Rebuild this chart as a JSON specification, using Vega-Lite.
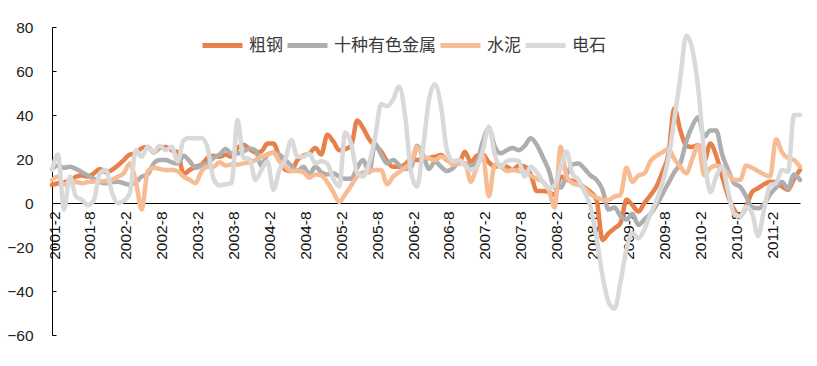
{
"$schema": "https://vega.github.io/schema/vega-lite/v6.json",
"width": 748, "height": 308,
"autosize": "none",
"padding": {"left": 52, "top": 27, "right": 17, "bottom": 31},
"background": "white",
"config": {"view": {"stroke": null}},
"data": {"values": [
{"m":"2001-2","粗钢":8.2,"十种有色金属":15.5,"水泥":10.5,"电石":15},
{"m":"2001-3","粗钢":9,"十种有色金属":17,"水泥":12,"电石":22},
{"m":"2001-4","粗钢":9.5,"十种有色金属":16,"水泥":8.3,"电石":-3},
{"m":"2001-5","粗钢":10,"十种有色金属":16.5,"水泥":9.5,"电石":12},
{"m":"2001-6","粗钢":12,"十种有色金属":15.5,"水泥":9.5,"电石":3},
{"m":"2001-7","粗钢":12.5,"十种有色金属":14,"水泥":9,"电石":1.4},
{"m":"2001-8","粗钢":12,"十种有色金属":12.5,"水泥":9.5,"电石":-1},
{"m":"2001-9","粗钢":13.5,"十种有色金属":11,"水泥":9.8,"电石":1.4},
{"m":"2001-10","粗钢":15.5,"十种有色金属":9.5,"水泥":9.8,"电石":13.5},
{"m":"2001-11","粗钢":14,"十种有色金属":9,"水泥":10,"电石":15},
{"m":"2001-12","粗钢":15,"十种有色金属":9.5,"水泥":10.5,"电石":5},
{"m":"2002-1","粗钢":17,"十种有色金属":9.7,"水泥":12,"电石":0},
{"m":"2002-2","粗钢":19.5,"十种有色金属":9,"水泥":13.5,"电石":1},
{"m":"2002-3","粗钢":22,"十种有色金属":8.3,"水泥":18,"电石":4.4},
{"m":"2002-4","粗钢":22.5,"十种有色金属":9.5,"水泥":10,"电石":24},
{"m":"2002-5","粗钢":25,"十种有色金属":12,"水泥":-3,"电石":21},
{"m":"2002-6","粗钢":25.5,"十种有色金属":13,"水泥":14.5,"电石":25.6},
{"m":"2002-7","粗钢":23,"十种有色金属":18,"水泥":16,"电石":23},
{"m":"2002-8","粗钢":25,"十种有色金属":19.5,"水泥":15.5,"电石":26},
{"m":"2002-9","粗钢":25.5,"十种有色金属":19.5,"水泥":15,"电石":24},
{"m":"2002-10","粗钢":24,"十种有色金属":18.5,"水泥":15,"电石":25.6},
{"m":"2002-11","粗钢":23,"十种有色金属":18,"水泥":14.5,"电石":19},
{"m":"2002-12","粗钢":13,"十种有色金属":21.5,"水泥":12,"电石":28.6},
{"m":"2003-1","粗钢":15,"十种有色金属":19,"水泥":10.5,"电石":29.5},
{"m":"2003-2","粗钢":16.5,"十种有色金属":16,"水泥":9,"电石":29.4},
{"m":"2003-3","粗钢":17.5,"十种有色金属":17,"水泥":14.5,"电石":29.5},
{"m":"2003-4","粗钢":20.5,"十种有色金属":18,"水泥":16.5,"电石":25},
{"m":"2003-5","粗钢":21.5,"十种有色金属":20.5,"水泥":16.5,"电石":11},
{"m":"2003-6","粗钢":21,"十种有色金属":22,"水泥":18.5,"电石":8},
{"m":"2003-7","粗钢":22,"十种有色金属":24.5,"水泥":17,"电石":8.5},
{"m":"2003-8","粗钢":21,"十种有色金属":22.5,"水泥":17.5,"电石":9},
{"m":"2003-9","粗钢":25,"十种有色金属":22.5,"水泥":17.5,"电石":37.7},
{"m":"2003-10","粗钢":26.5,"十种有色金属":23.5,"水泥":18,"电石":20.5},
{"m":"2003-11","粗钢":24.5,"十种有色金属":24.8,"水泥":18.5,"电石":20},
{"m":"2003-12","粗钢":23,"十种有色金属":24,"水泥":19.5,"电石":10.5},
{"m":"2004-1","粗钢":23.5,"十种有色金属":17,"水泥":21,"电石":15},
{"m":"2004-2","粗钢":27,"十种有色金属":22,"水泥":22,"电石":19},
{"m":"2004-3","粗钢":27,"十种有色金属":23,"水泥":23,"电石":6},
{"m":"2004-4","粗钢":21,"十种有色金属":22,"水泥":19,"电石":15},
{"m":"2004-5","粗钢":15,"十种有色金属":19.5,"水泥":16.5,"电石":20},
{"m":"2004-6","粗钢":14.5,"十种有色金属":17,"水泥":14.5,"电石":28.6},
{"m":"2004-7","粗钢":19.5,"十种有色金属":14.5,"水泥":14.5,"电石":21},
{"m":"2004-8","粗钢":21.5,"十种有色金属":16.5,"水泥":14,"电石":21},
{"m":"2004-9","粗钢":22.5,"十种有色金属":13,"水泥":11.5,"电石":22.5},
{"m":"2004-10","粗钢":25,"十种有色金属":16.5,"水泥":13,"电石":18},
{"m":"2004-11","粗钢":22,"十种有色金属":14,"水泥":12.5,"电石":19},
{"m":"2004-12","粗钢":31,"十种有色金属":13,"水泥":9.5,"电石":18},
{"m":"2005-1","粗钢":28,"十种有色金属":13.5,"水泥":5,"电石":11},
{"m":"2005-2","粗钢":24,"十种有色金属":12,"水泥":0.5,"电石":7.5},
{"m":"2005-3","粗钢":24.5,"十种有色金属":11,"水泥":4,"电石":32},
{"m":"2005-4","粗钢":26,"十种有色金属":11,"水泥":8,"电石":27},
{"m":"2005-5","粗钢":37.5,"十种有色金属":16,"水泥":12,"电石":13.5},
{"m":"2005-6","粗钢":34,"十种有色金属":19.5,"水泥":14,"电石":12},
{"m":"2005-7","粗钢":29,"十种有色金属":14,"水泥":14.5,"电石":18},
{"m":"2005-8","粗钢":26,"十种有色金属":27,"水泥":15,"电石":30},
{"m":"2005-9","粗钢":23.5,"十种有色金属":22,"水泥":15,"电石":45},
{"m":"2005-10","粗钢":19,"十种有色金属":18,"水泥":8.5,"电石":44},
{"m":"2005-11","粗钢":16.5,"十种有色金属":19.5,"水泥":12,"电石":47},
{"m":"2005-12","粗钢":16.5,"十种有色金属":17.3,"水泥":14,"电石":53},
{"m":"2006-1","粗钢":17.5,"十种有色金属":15.5,"水泥":16,"电石":40},
{"m":"2006-2","粗钢":20,"十种有色金属":16,"水泥":18.5,"电石":14},
{"m":"2006-3","粗钢":19.5,"十种有色金属":26,"水泥":25.5,"电石":7.5},
{"m":"2006-4","粗钢":20,"十种有色金属":22,"水泥":21,"电石":25},
{"m":"2006-5","粗钢":20.5,"十种有色金属":15.5,"水泥":20.3,"电石":46.8},
{"m":"2006-6","粗钢":21,"十种有色金属":18.8,"水泥":19.5,"电石":54},
{"m":"2006-7","粗钢":21.8,"十种有色金属":16.5,"水泥":21,"电石":44},
{"m":"2006-8","粗钢":19.5,"十种有色金属":14.5,"水泥":20,"电石":24},
{"m":"2006-9","粗钢":18.5,"十种有色金属":15.8,"水泥":17.5,"电石":19},
{"m":"2006-10","粗钢":18,"十种有色金属":18.5,"水泥":18,"电石":19.5},
{"m":"2006-11","粗钢":23.3,"十种有色金属":18,"水泥":18,"电石":17},
{"m":"2006-12","粗钢":18.5,"十种有色金属":17,"水泥":9.7,"电石":15},
{"m":"2007-1","粗钢":21.5,"十种有色金属":18.5,"水泥":16.5,"电石":16.5},
{"m":"2007-2","粗钢":22,"十种有色金属":28,"水泥":21.5,"电石":24},
{"m":"2007-3","粗钢":18.5,"十种有色金属":34,"水泥":3,"电石":34.7},
{"m":"2007-4","粗钢":16.5,"十种有色金属":25.6,"水泥":17.5,"电石":22},
{"m":"2007-5","粗钢":17,"十种有色金属":22.6,"水泥":16.5,"电石":16.5},
{"m":"2007-6","粗钢":16.5,"十种有色金属":24,"水泥":14.5,"电石":19},
{"m":"2007-7","粗钢":15,"十种有色金属":25,"水泥":15,"电石":19.5},
{"m":"2007-8","粗钢":17,"十种有色金属":24,"水泥":14.5,"电石":19},
{"m":"2007-9","粗钢":16.5,"十种有色金属":26,"水泥":14,"电石":12},
{"m":"2007-10","粗钢":13,"十种有色金属":29.4,"水泥":12.5,"电石":16.5},
{"m":"2007-11","粗钢":5.5,"十种有色金属":26.5,"水泥":11,"电石":14},
{"m":"2007-12","粗钢":5.5,"十种有色金属":21,"水泥":9.7,"电石":9.7},
{"m":"2008-1","粗钢":5,"十种有色金属":15,"水泥":6,"电石":6.7},
{"m":"2008-2","粗钢":3.6,"十种有色金属":7,"水泥":-2,"电石":8},
{"m":"2008-3","粗钢":12,"十种有色金属":7,"水泥":25.6,"电石":16},
{"m":"2008-4","粗钢":10.5,"十种有色金属":13,"水泥":12,"电石":23.3},
{"m":"2008-5","粗钢":10,"十种有色金属":17.5,"水泥":9,"电石":13},
{"m":"2008-6","粗钢":9,"十种有色金属":18,"水泥":8.2,"电石":10.5},
{"m":"2008-7","粗钢":7,"十种有色金属":15.5,"水泥":6.7,"电石":5},
{"m":"2008-8","粗钢":5,"十种有色金属":12.5,"水泥":4,"电石":-1.7},
{"m":"2008-9","粗钢":1.5,"十种有色金属":10.5,"水泥":2.5,"电石":-16},
{"m":"2008-10","粗钢":-16.8,"十种有色金属":6,"水泥":1.5,"电石":-33},
{"m":"2008-11","粗钢":-13.8,"十种有色金属":-3,"水泥":1.4,"电石":-45},
{"m":"2008-12","粗钢":-11.5,"十种有色金属":-2,"水泥":2.9,"电石":-48},
{"m":"2009-1","粗钢":-9.2,"十种有色金属":-6,"水泥":3.6,"电石":-36},
{"m":"2009-2","粗钢":1.5,"十种有色金属":-7.5,"水泥":16,"电石":-21},
{"m":"2009-3","粗钢":-1,"十种有色金属":-5,"水泥":9.7,"电石":-13.8},
{"m":"2009-4","粗钢":-3.9,"十种有色金属":-10,"水泥":12.5,"电石":-16},
{"m":"2009-5","粗钢":0,"十种有色金属":-7.5,"水泥":13.5,"电石":-12},
{"m":"2009-6","粗钢":3.5,"十种有色金属":-5,"水泥":19,"电石":-5},
{"m":"2009-7","粗钢":7.5,"十种有色金属":-1,"水泥":21.5,"电石":1},
{"m":"2009-8","粗钢":14,"十种有色金属":4,"水泥":23,"电石":9},
{"m":"2009-9","粗钢":22,"十种有色金属":9,"水泥":24.5,"电石":20},
{"m":"2009-10","粗钢":43,"十种有色金属":14,"水泥":20,"电石":38},
{"m":"2009-11","粗钢":33,"十种有色金属":18,"水泥":16.5,"电石":57},
{"m":"2009-12","粗钢":26,"十种有色金属":28,"水泥":13.5,"电石":76},
{"m":"2010-1","粗钢":25.5,"十种有色金属":35,"水泥":20,"电石":70},
{"m":"2010-2","粗钢":26.4,"十种有色金属":39,"水泥":26.4,"电石":52},
{"m":"2010-3","粗钢":19,"十种有色金属":30,"水泥":12.5,"电石":22},
{"m":"2010-4","粗钢":27,"十种有色金属":33,"水泥":15.8,"电石":5},
{"m":"2010-5","粗钢":21.5,"十种有色金属":33,"水泥":17,"电石":12},
{"m":"2010-6","粗钢":12,"十种有色金属":22,"水泥":16,"电石":16.5},
{"m":"2010-7","粗钢":3,"十种有色金属":15,"水泥":13,"电石":5},
{"m":"2010-8","粗钢":-3,"十种有色金属":9,"水泥":10.5,"电石":-5},
{"m":"2010-9","粗钢":-6,"十种有色金属":7.4,"水泥":10.5,"电石":-6.2},
{"m":"2010-10","粗钢":-1.5,"十种有色金属":3,"水泥":17,"电石":-1.7},
{"m":"2010-11","粗钢":5,"十种有色金属":-2,"水泥":16,"电石":-4.7},
{"m":"2010-12","粗钢":6.7,"十种有色金属":-2.4,"水泥":14.5,"电石":-15},
{"m":"2011-1","粗钢":8.5,"十种有色金属":-0.5,"水泥":13,"电石":-3},
{"m":"2011-2","粗钢":9.7,"十种有色金属":4,"水泥":12,"电石":8},
{"m":"2011-3","粗钢":9.5,"十种有色金属":7,"水泥":29,"电石":9},
{"m":"2011-4","粗钢":7.4,"十种有色金属":9.5,"水泥":23,"电石":15},
{"m":"2011-5","粗钢":6,"十种有色金属":6.5,"水泥":20.3,"电石":14.2},
{"m":"2011-6","粗钢":11,"十种有色金属":13,"水泥":19.5,"电石":40},
{"m":"2011-7","粗钢":15,"十种有色金属":10.5,"水泥":16.5,"电石":40}
]},
"transform": [{"fold": ["粗钢","十种有色金属","水泥","电石"], "as": ["series","value"]}],
"mark": {"type": "line", "strokeWidth": 4.5, "interpolate": "monotone", "strokeCap": "round", "strokeJoin": "round"},
"encoding": {
 "x": {"field": "m", "type": "ordinal", "sort": null, "scale": {"type": "point", "padding": 0},
   "axis": {"title": null, "offset": -132, "ticks": false, "grid": false, "domainColor": "#000", "domainWidth": 1,
     "labelAngle": -90, "labelAlign": "right", "labelBaseline": "middle", "labelPadding": 8, "labelOffset": 2,
     "labelFont": "Liberation Sans", "labelFontSize": 15.5, "labelColor": "#111", "labelOverlap": false,
     "labelExpr": "(split(datum.value,'-')[1] == '2' || split(datum.value,'-')[1] == '8') ? datum.value : ''"}},
 "y": {"field": "value", "type": "quantitative", "scale": {"domain": [-60, 80], "nice": false, "zero": false},
   "axis": {"title": null, "values": [-60,-40,-20,0,20,40,60,80], "grid": false, "domainColor": "#000", "tickColor": "#000",
     "tickSize": -4, "labelPadding": 23, "labelFont": "Liberation Sans", "labelFontSize": 15.5, "labelColor": "#222"}},
 "color": {"field": "series", "type": "nominal",
   "scale": {"domain": ["粗钢","十种有色金属","水泥","电石"], "range": ["#E8804A","#AEAEAE","#F7BC94","#D9D9D9"]},
   "legend": {"title": null, "orient": "none", "legendX": 148, "legendY": -4, "direction": "horizontal",
     "gridAlign": "none",
     "symbolType": "stroke", "symbolSize": 1600, "symbolStrokeWidth": 5, "labelFont": "Noto Sans CJK SC", "labelFontSize": 17,
     "labelColor": "#3a3a3a", "labelOffset": 4, "columnPadding": -6, "padding": 0}}
}
}
